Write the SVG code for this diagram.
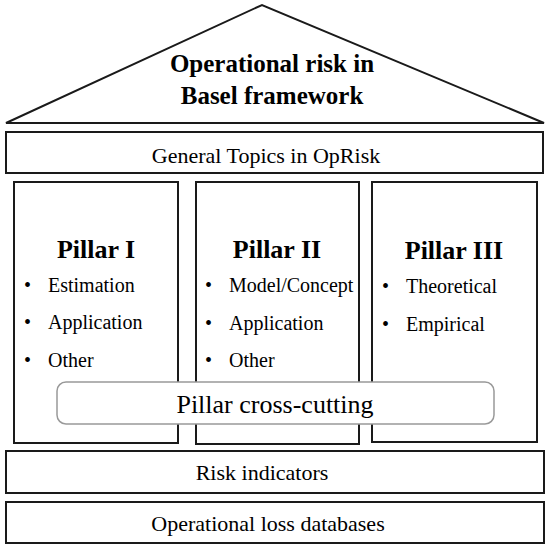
<svg xmlns="http://www.w3.org/2000/svg" width="550" height="549" viewBox="0 0 550 549">
<style>
.box{fill:#fff;stroke:#1a1a1a;stroke-width:2}
.t{font-family:"Liberation Serif","Times New Roman",serif;fill:#000}
.b{font-weight:bold}
.c{text-anchor:middle}
</style>
<rect width="550" height="549" fill="#fff"/>
<g id="roof">
<polygon class="box" points="6,123 262,5 544,123" stroke-width="1.6"/>
<text class="t b c" x="272" y="72" font-size="25">Operational risk in</text>
<text class="t b c" x="272" y="104" font-size="25">Basel framework</text>
</g>
<g id="general">
<rect class="box" x="6" y="132" width="537" height="41"/>
<text class="t c" x="266" y="163" font-size="22">General Topics in OpRisk</text>
</g>
<g id="pillar1">
<rect class="box" x="14" y="182" width="164" height="261"/>
<text class="t b c" x="96" y="258" font-size="26">Pillar I</text>
<text class="t" font-size="20"><tspan x="24" y="292">•</tspan><tspan x="48" y="292">Estimation</tspan><tspan x="24" y="329">•</tspan><tspan x="48" y="329">Application</tspan><tspan x="24" y="367">•</tspan><tspan x="48" y="367">Other</tspan></text>
</g>
<g id="pillar2">
<rect class="box" x="196" y="182" width="163" height="262"/>
<text class="t b c" x="277" y="258" font-size="26">Pillar II</text>
<text class="t" font-size="20"><tspan x="205" y="292">•</tspan><tspan x="229" y="292">Model/Concept</tspan><tspan x="205" y="330">•</tspan><tspan x="229" y="330">Application</tspan><tspan x="205" y="367">•</tspan><tspan x="229" y="367">Other</tspan></text>
</g>
<g id="pillar3">
<rect class="box" x="372" y="182" width="165" height="260"/>
<text class="t b c" x="454" y="259" font-size="26">Pillar III</text>
<text class="t" font-size="20"><tspan x="382" y="293">•</tspan><tspan x="406" y="293">Theoretical</tspan><tspan x="382" y="331">•</tspan><tspan x="406" y="331">Empirical</tspan></text>
</g>
<g id="crosscutting">
<rect x="57" y="382" width="437" height="42" rx="9" fill="#fff" stroke="#999" stroke-width="1.5"/>
<text class="t c" x="275" y="413" font-size="26">Pillar cross-cutting</text>
</g>
<g id="risk">
<rect class="box" x="6" y="451" width="538" height="42"/>
<text class="t c" x="262" y="480" font-size="22">Risk indicators</text>
</g>
<g id="loss">
<rect class="box" x="6" y="502" width="538" height="41"/>
<text class="t c" x="268" y="531" font-size="22">Operational loss databases</text>
</g>
<g id="connectors"></g>
</svg>
